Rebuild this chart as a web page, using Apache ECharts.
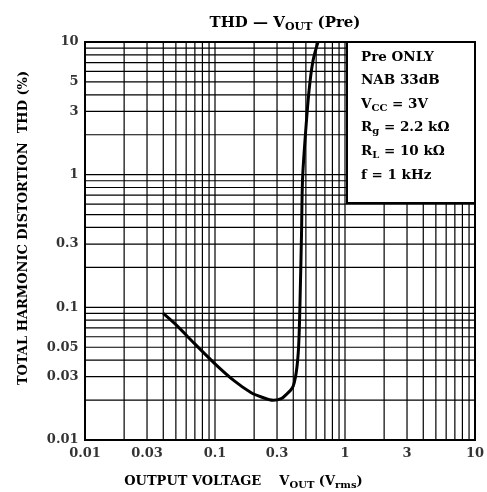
<!DOCTYPE html>
<html><head><meta charset="utf-8">
<script src="https://cdn.jsdelivr.net/npm/echarts@6/dist/echarts.min.js"></script>
<style>html,body{margin:0;padding:0;background:#fff}#c{width:487px;height:492px}</style>
</head><body><div id="c"></div>
<script>
// ---- data ----
const voutValues = [0.04, 0.05, 0.07, 0.1, 0.14, 0.19, 0.23, 0.28, 0.326, 0.356, 0.38, 0.40, 0.415, 0.427, 0.437, 0.444, 0.451, 0.463, 0.471, 0.492, 0.529, 0.567, 0.62];
const thdValues  = [0.09, 0.074, 0.053, 0.0375, 0.028, 0.0227, 0.021, 0.0199, 0.0206, 0.0222, 0.0236, 0.0255, 0.0295, 0.0355, 0.0455, 0.063, 0.112, 0.36, 0.9, 1.8, 4.3, 7.2, 10];

const xTickValues = [0.01, 0.03, 0.1, 0.3, 1, 3, 10];
const xTickLabels = ['0.01', '0.03', '0.1', '0.3', '1', '3', '10'];
const yTickValues = [0.01, 0.03, 0.05, 0.1, 0.3, 1, 3, 5, 10];
const yTickLabels = ['0.01', '0.03', '0.05', '0.1', '0.3', '1', '3', '5', '10'];

const xGridValues = [0.02, 0.03, 0.04, 0.05, 0.06, 0.07, 0.08, 0.09, 0.1, 0.2, 0.3, 0.4, 0.5, 0.6, 0.7, 0.8, 0.9, 1, 2, 3, 4, 5, 6, 7, 8, 9];
const yGridValues = [0.02, 0.03, 0.04, 0.05, 0.06, 0.07, 0.08, 0.09, 0.1, 0.2, 0.3, 0.4, 0.5, 0.6, 0.7, 0.8, 0.9, 1, 2, 3, 4, 5, 6, 7, 8, 9];

const AX_MIN = 0.01, AX_MAX = 10;

const legendLines = [
  '{n|Pre ONLY}',
  '{n|NAB 33dB}',
  '{n|V}{s|CC}{n| = 3V}',
  '{n|R}{s|g}{n| = 2.2 kΩ}',
  '{n|R}{s|L}{n| = 10 kΩ}',
  '{n|f = 1 kHz}'
];

// ---- chart ----
const FONT = 'DejaVu Serif';
const chart = echarts.init(document.getElementById('c'), null, {renderer: 'canvas'});
const series = [];

xGridValues.forEach(v => series.push({
  type: 'line', data: [[v, AX_MIN], [v, AX_MAX]], symbol: 'none', silent: true, z: 1,
  lineStyle: {color: '#000', width: 1.2}, animation: false
}));
yGridValues.forEach(v => series.push({
  type: 'line', data: [[AX_MIN, v], [AX_MAX, v]], symbol: 'none', silent: true, z: 1,
  lineStyle: {color: '#000', width: 1.2}, animation: false
}));

series.push({
  type: 'line', data: voutValues.map((x, i) => [x, thdValues[i]]),
  symbol: 'none', smooth: 0.3, z: 5,
  lineStyle: {color: '#000', width: 3}, animation: false
});

series.push({
  type: 'scatter', data: xTickValues.map(v => [v, AX_MIN]), symbolSize: 1, z: 6, silent: true,
  itemStyle: {color: 'rgba(0,0,0,0)'}, clip: false, animation: false,
  label: {show: true, position: 'bottom', distance: 7, color: '#000', fontFamily: FONT, fontWeight: 'bold', fontSize: 13,
    formatter: p => xTickLabels[p.dataIndex]}
});
series.push({
  type: 'scatter', data: yTickValues.map(v => [AX_MIN, v]), symbolSize: 1, z: 6, silent: true,
  itemStyle: {color: 'rgba(0,0,0,0)'}, clip: false, animation: false,
  label: {show: true, position: 'left', distance: 6, color: '#000', fontFamily: FONT, fontWeight: 'bold', fontSize: 13,
    formatter: p => yTickLabels[p.dataIndex]}
});

const legendGraphics = legendLines.map((t, i) => ({
  type: 'text', left: 361, top: 50 + i * 23.6, z: 101,
  style: {
    text: t,
    rich: {
      n: {fontFamily: FONT, fontWeight: 'bold', fontSize: 13.5, color: '#000', lineHeight: 18},
      s: {fontFamily: FONT, fontWeight: 'bold', fontSize: 10, color: '#000', lineHeight: 12, verticalAlign: 'bottom'}
    }
  }
}));

chart.setOption({
  animation: false,
  backgroundColor: '#fff',
  title: {
    text: '{a|THD — V}{s|OUT}{a| (Pre)}',
    left: 280, top: 8, textAlign: 'center',
    textStyle: {
      rich: {
        a: {fontFamily: FONT, fontWeight: 'bold', fontSize: 15, color: '#000', lineHeight: 20},
        s: {fontFamily: FONT, fontWeight: 'bold', fontSize: 11, color: '#000', lineHeight: 14, verticalAlign: 'bottom'}
      }
    }
  },
  grid: {left: 85, right: 12, top: 42, bottom: 52, show: true, borderColor: '#000', borderWidth: 2, backgroundColor: '#fff'},
  xAxis: {type: 'log', logBase: 10, min: AX_MIN, max: AX_MAX,
    axisLine: {show: true, lineStyle: {color: '#000', width: 2}}, axisTick: {show: false},
    axisLabel: {show: false}, splitLine: {show: false}},
  yAxis: {type: 'log', logBase: 10, min: AX_MIN, max: AX_MAX,
    axisLine: {show: true, lineStyle: {color: '#000', width: 2}}, axisTick: {show: false},
    axisLabel: {show: false}, splitLine: {show: false}},
  series: series,
  graphic: [
    {type: 'rect', shape: {x: 347, y: 42, width: 128, height: 161}, z: 100,
      style: {fill: '#fff', stroke: '#000', lineWidth: 2}},
    ...legendGraphics,
    {type: 'text', left: 'center', top: 475, z: 100,
      style: {
        text: '{a|OUTPUT VOLTAGE    V}{s|OUT}{a| (V}{s|rms}{a|)}',
        rich: {
          a: {fontFamily: FONT, fontWeight: 'bold', fontSize: 13, color: '#000', lineHeight: 17},
          s: {fontFamily: FONT, fontWeight: 'bold', fontSize: 10, color: '#000', lineHeight: 12, verticalAlign: 'bottom'}
        }
      }},
    {type: 'text', x: 24, y: 228, rotation: Math.PI / 2, z: 100,
      style: {
        text: 'TOTAL HARMONIC DISTORTION  THD (%)',
        fontFamily: FONT, fontWeight: 'bold', fontSize: 13, fill: '#000',
        align: 'center', verticalAlign: 'middle'
      }}
  ]
});
</script></body></html>
